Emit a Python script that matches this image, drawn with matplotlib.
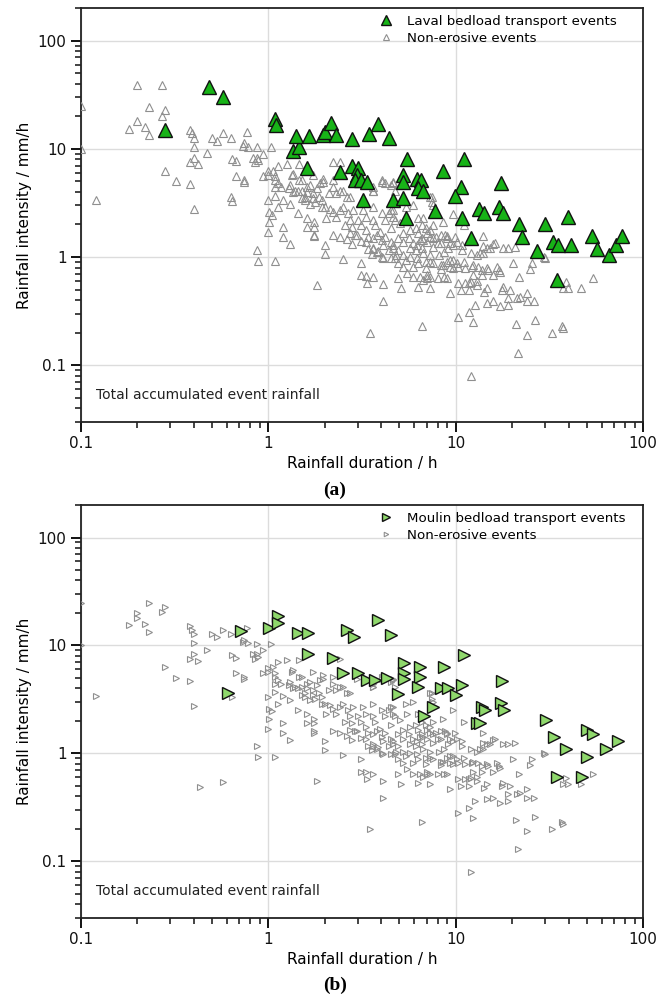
import numpy as np
import matplotlib
matplotlib.use("Agg")
import matplotlib.pyplot as plt
from matplotlib.ticker import LogLocator, NullFormatter

# rainfall duration (h), rainfall intensity (mm/h)
laval_events = [
    (0.28, 15), (0.48, 37), (0.57, 30), (1.09, 19), (1.1, 16.5), (1.36, 9.6), (1.45, 10.3),
    (1.41, 13.2), (1.64, 13.2), (1.6, 6.6), (1.96, 13.5), (2.0, 14.3), (2.17, 17.5), (2.3, 13.3),
    (2.8, 12.2), (3.46, 13.8), (3.86, 17.1), (4.4, 12.5), (2.42, 6.05), (2.8, 6.9), (3.0, 6.6),
    (2.98, 5.7), (2.9, 5.1), (3.1, 5.1), (3.37, 4.9), (3.2, 3.35), (4.6, 3.35), (5.2, 3.5),
    (5.5, 8.0), (5.2, 5.7), (5.2, 4.9), (6.2, 5.3), (6.5, 5.1), (6.3, 4.3), (6.7, 4.1),
    (5.4, 2.3), (7.7, 2.65), (8.5, 6.2), (11, 8.1), (10.7, 4.4), (9.9, 3.65), (10.8, 2.3),
    (12, 1.5), (13.3, 2.8), (14.2, 2.55), (17, 2.9), (17.9, 2.55), (17.5, 4.8), (21.8, 2.0),
    (22.6, 1.53), (27, 1.13), (30, 2.0), (33, 1.38), (35, 1.29), (41, 1.29), (39.5, 2.33),
    (34.7, 0.61), (53, 1.56), (57, 1.18), (65.6, 1.04), (72, 1.29), (77, 1.56),
]

moulin_events = [
    (0.61, 3.6), (0.71, 13.6), (1.01, 14.5), (1.12, 18.6), (1.12, 16.1), (1.43, 13), (1.62, 13),
    (1.62, 8.3), (2.2, 7.6), (2.64, 13.9), (2.85, 12), (3.86, 17.1), (4.5, 12.5), (2.5, 5.6),
    (3.0, 5.6), (3.37, 4.8), (3.7, 4.8), (4.3, 5.0), (5.3, 6.9), (5.3, 5.6), (5.3, 4.9),
    (6.45, 6.3), (6.45, 5.1), (6.3, 4.15), (8.6, 6.3), (8.3, 4.05), (9.1, 4.05), (10.8, 4.3),
    (10, 3.5), (4.9, 3.55), (7.6, 2.7), (6.8, 2.2), (11, 8.15), (17.7, 4.7), (13.8, 2.7),
    (14.4, 2.55), (17.5, 2.95), (18, 2.55), (13, 1.93), (13.5, 1.93), (30.3, 2.05), (33.5, 1.43),
    (38.8, 1.1), (50, 1.66), (54, 1.5), (50, 0.92), (63.5, 1.11), (73, 1.29), (34.7, 0.6),
    (47, 0.6),
]

non_erosive = [
    (0.1, 25), (0.1, 10), (0.12, 3.4), (0.23, 24.6), (0.27, 20.3), (0.28, 22.6), (0.18, 15.4),
    (0.2, 17.9), (0.22, 15.8), (0.23, 13.3), (0.28, 6.3), (0.32, 5.0), (0.38, 15), (0.39, 13.9),
    (0.4, 12.7), (0.4, 10.5), (0.38, 7.5), (0.4, 8.3), (0.42, 7.2), (0.38, 4.7), (0.4, 2.76),
    (0.47, 9.1), (0.5, 12.7), (0.53, 11.9), (0.57, 13.9), (0.63, 12.7), (0.77, 14.4), (0.64, 8.1),
    (0.67, 7.7), (0.67, 5.6), (0.74, 5.1), (0.74, 4.9), (0.63, 3.6), (0.64, 3.3), (0.73, 10.7),
    (0.78, 10.5), (0.87, 10.3), (0.83, 8.3), (0.87, 8.3), (0.85, 7.5), (0.88, 7.8), (0.94, 9.0),
    (1.03, 10.3), (0.93, 5.6), (0.99, 6.2), (1.13, 7.0), (1.06, 6.3), (1.08, 5.6), (1.09, 5.1),
    (1.13, 4.8), (1.09, 4.4), (1.16, 4.4), (1.19, 3.4), (1.09, 3.7), (0.99, 3.35), (1.01, 2.6),
    (1.04, 2.45), (1.12, 2.9), (1.01, 2.1), (1.19, 1.9), (1.31, 4.6), (1.28, 4.3), (1.36, 4.0),
    (1.43, 4.05), (1.51, 4.1), (1.36, 5.9), (1.45, 5.1), (1.45, 7.3), (1.31, 3.1), (1.43, 2.55),
    (1.51, 3.5), (1.57, 3.6), (1.61, 2.3), (1.74, 2.1), (1.74, 1.9), (1.6, 4.4), (1.67, 4.6),
    (1.82, 4.3), (1.89, 4.8), (1.96, 4.9), (1.72, 5.7), (1.94, 3.35), (2.1, 3.9), (2.2, 4.4),
    (2.0, 2.9), (2.14, 2.8), (2.2, 2.6), (2.04, 2.3), (1.72, 3.5), (1.85, 3.6), (1.67, 3.1),
    (0.74, 11.2), (1.26, 7.3), (1.34, 5.7), (1.39, 4.1), (1.51, 5.1), (1.61, 4.0), (1.72, 3.9),
    (1.57, 3.35), (1.78, 3.2), (1.61, 1.9), (1.74, 1.6), (1.96, 5.3), (2.2, 5.1), (2.2, 7.5),
    (2.42, 7.5), (2.28, 3.9), (2.5, 4.1), (2.64, 3.6), (1.94, 2.9), (2.28, 2.33), (2.42, 2.7),
    (2.5, 2.9), (2.67, 2.55), (2.84, 2.7), (2.74, 2.2), (2.57, 1.97), (2.8, 1.9), (3.0, 2.2),
    (3.3, 2.33), (3.1, 1.97), (3.3, 1.77), (3.6, 2.2), (3.7, 1.97), (4.05, 2.55), (4.2, 2.2),
    (4.5, 1.85), (3.95, 1.7), (4.6, 2.7), (4.05, 5.1), (4.2, 4.8), (4.5, 4.6), (3.6, 4.1),
    (3.63, 4.4), (2.98, 4.9), (1.0, 5.7), (1.0, 1.7),
    (0.87, 1.16), (0.88, 0.92), (1.09, 0.92), (1.19, 1.53), (1.31, 1.32), (1.74, 1.56),
    (2.0, 1.29), (2.0, 1.07), (1.82, 0.55), (2.5, 0.96), (3.13, 0.88), (3.1, 0.68), (3.3, 0.67),
    (3.6, 0.65), (3.37, 0.58), (4.1, 0.56), (4.1, 0.39), (3.5, 0.2), (2.8, 1.32), (2.64, 1.46),
    (3.1, 1.4), (3.3, 1.37), (3.4, 1.18), (3.6, 1.18), (3.55, 1.07), (3.86, 1.14), (4.1, 0.98),
    (4.4, 1.16), (4.6, 1.29), (4.1, 1.29),
    (5.1, 0.52), (4.9, 0.64), (5.9, 0.65), (6.3, 0.53), (7.3, 0.52), (6.6, 0.23), (8.3, 0.78),
    (9.0, 0.64), (9.3, 0.47), (10.3, 0.28), (11.7, 0.31), (12.4, 0.25), (12.6, 0.36), (12.1, 0.08),
    (10.3, 0.58), (10.6, 0.5), (11.7, 0.5), (13, 0.55), (14.2, 0.48), (14.7, 0.38), (15.8, 0.39),
    (17.2, 0.35), (17.7, 0.5), (19.5, 0.5), (19, 0.36), (19, 0.42), (21, 0.24), (21.5, 0.13),
    (21.3, 0.42), (22, 0.43), (24, 0.47), (24, 0.39), (26, 0.39), (24, 0.19), (26.5, 0.26),
    (32.7, 0.2), (37, 0.23), (37.5, 0.22), (37.5, 0.52), (39.5, 0.52), (38.8, 0.59), (46.7, 0.52),
    (54, 0.64), (20.3, 0.88), (21.8, 0.65), (25, 0.78), (25.5, 0.88), (30, 0.98), (20.7, 1.24),
    (17.9, 1.21), (15.8, 1.32), (14.7, 1.21), (13.5, 1.09), (14, 1.56), (16.6, 0.81), (17.3, 0.73),
    (15.8, 0.68), (14.9, 0.76), (13.8, 0.68), (12.4, 0.84), (12.4, 0.68), (13, 0.6), (12, 0.59),
    (11.2, 0.58), (12, 1.09), (11, 0.9), (10.2, 0.88), (9.7, 0.94), (9.3, 0.81), (9.0, 0.9),
    (8.3, 0.84), (7.3, 0.9), (6.9, 0.79), (6.3, 0.88), (5.9, 0.81), (5.2, 0.81), (4.9, 0.88),
    (4.8, 1.04), (4.5, 0.98), (4.05, 1.0), (3.8, 1.11), (3.6, 1.21), (2.9, 1.6), (2.74, 1.66),
    (5.5, 0.71), (5.4, 0.94), (5.7, 1.21), (6.2, 1.29), (6.7, 1.43), (7.3, 1.53), (8.0, 1.35),
    (8.8, 1.6), (9.3, 1.35), (9.9, 1.53), (10.8, 1.29), (14, 1.26), (8.6, 0.65), (7.3, 0.65),
    (6.7, 0.61), (7.0, 0.68),
    (4.6, 4.9), (4.75, 4.1), (5.9, 3.0), (4.6, 2.33), (4.75, 2.2), (6.3, 2.3), (6.7, 2.3),
    (7.5, 3.6), (7.6, 3.0), (9.6, 2.5), (8.5, 2.1), (7.6, 1.97), (6.9, 1.85), (5.7, 1.77),
    (5.25, 1.66), (6.3, 1.66), (7.0, 1.66), (8.3, 1.6), (9.0, 1.56), (11, 1.97),
    (4.6, 1.21), (5.2, 1.04), (5.7, 1.0), (6.2, 0.98), (6.7, 1.09), (7.3, 1.04), (8.1, 1.04),
    (8.6, 1.11), (9.1, 1.21), (9.7, 1.29), (10.2, 1.37), (10.8, 1.16), (13, 1.04), (14, 1.09),
    (15.3, 1.21), (16.2, 1.35), (19, 1.21), (9.3, 0.94), (9.7, 0.79), (10.3, 0.81), (11.2, 0.79),
    (12.2, 0.81), (13.2, 0.81), (13.8, 0.76), (14.7, 0.79), (16.9, 0.76), (6.45, 0.65), (7.0, 0.64),
    (8.0, 0.64), (11.7, 0.58), (14.7, 0.52), (17.9, 0.53), (29.4, 1.0),
    (4.5, 1.37), (4.9, 1.5), (5.25, 1.37), (5.6, 1.5), (5.9, 1.35), (6.45, 1.43), (7.0, 1.37),
    (7.6, 1.5), (8.3, 1.35), (9.0, 1.5), (4.9, 1.16), (6.1, 1.16), (6.6, 1.21), (7.6, 1.24),
    (4.75, 0.98), (6.9, 0.9), (7.6, 0.88), (8.5, 0.84),
    (4.5, 2.7), (5.05, 2.05), (5.5, 2.33), (6.6, 1.97), (6.1, 1.85), (7.3, 1.77), (7.8, 1.53),
    (6.6, 1.5), (2.2, 1.6), (2.42, 1.53), (2.98, 1.6), (3.4, 1.53), (3.8, 1.6), (4.2, 1.53),
    (3.63, 1.5), (4.05, 1.43),
    (2.42, 4.1), (2.74, 3.6), (4.05, 4.9), (4.6, 4.8), (3.63, 4.1), (3.2, 2.7), (3.6, 2.9),
    (4.4, 2.55), (7.3, 3.6), (7.5, 3.2), (5.4, 2.9),
]
# extra non-erosive events visible only in one panel
laval_non_erosive_extra = [(0.2, 38.5), (0.27, 39)]
moulin_non_erosive_extra = [(0.43, 0.49), (0.57, 0.54), (0.2, 19.8)]

panels = [
    dict(events=laval_events, extra=laval_non_erosive_extra, marker="^",
         face="#17b317", big=9.5, small=5.4, label="Laval bedload transport events", tag="(a)"),
    dict(events=moulin_events, extra=moulin_non_erosive_extra, marker=">",
         face="#8fd86c", big=8.5, small=4.3, label="Moulin bedload transport events", tag="(b)"),
]

plt.rcParams["font.family"] = "DejaVu Sans"
fig = plt.figure(figsize=(6.7, 10.02), dpi=100)
boxes = [[0.121, 0.579, 0.839, 0.413], [0.121, 0.084, 0.839, 0.412]]

for p, box in zip(panels, boxes):
    ax = fig.add_axes(box)
    ax.set_xscale("log")
    ax.set_yscale("log")
    ax.set_xlim(0.1, 100)
    ax.set_ylim(0.03, 200)

    gray = np.array(non_erosive + p["extra"])
    ev = np.array(p["events"])
    ax.plot(gray[:, 0], gray[:, 1], ls="none", marker=p["marker"], ms=p["small"],
            mfc="none", mec="#8f8f8f", mew=0.8, label="Non-erosive events", zorder=3)
    ax.plot(ev[:, 0], ev[:, 1], ls="none", marker=p["marker"], ms=p["big"],
            mfc=p["face"], mec="#111111", mew=1.0, label=p["label"], zorder=4)

    ax.grid(True, which="major", color="#dcdcdc", lw=1, zorder=0)
    ax.set_axisbelow(True)
    ax.set_xticks([0.1, 1, 10, 100])
    ax.set_xticklabels(["0.1", "1", "10", "100"])
    ax.set_yticks([0.1, 1, 10, 100])
    ax.set_yticklabels(["0.1", "1", "10", "100"])
    ax.xaxis.set_minor_locator(LogLocator(base=10, subs=np.arange(2, 10)))
    ax.yaxis.set_minor_locator(LogLocator(base=10, subs=np.arange(2, 10)))
    ax.xaxis.set_minor_formatter(NullFormatter())
    ax.yaxis.set_minor_formatter(NullFormatter())
    ax.tick_params(which="major", direction="out", length=7, width=1.4, labelsize=11,
                   top=False, right=False, colors="#111111")
    ax.tick_params(which="minor", direction="out", length=4, width=1.1,
                   top=False, right=False, colors="#111111")
    for s in ax.spines.values():
        s.set_linewidth(1.3)
        s.set_color("#222222")

    ax.set_xlabel("Rainfall duration / h", fontsize=11, labelpad=3)
    ax.set_ylabel("Rainfall intensity / mm/h", fontsize=11, labelpad=4)
    ax.text(0.027, 0.065, "Total accumulated event rainfall", transform=ax.transAxes,
            fontsize=10, va="center", ha="left", color="#222222")

    h, l = ax.get_legend_handles_labels()
    ax.legend(h[::-1], l[::-1], loc="upper left", bbox_to_anchor=(0.506, 1.012),
              frameon=False, fontsize=9.6, markerscale=0.75, handlelength=1.2,
              handletextpad=1.0, labelspacing=0.3)

fig.text(0.5, 0.511, "(a)", ha="center", va="center", fontsize=14,
         fontweight="bold", family="Liberation Serif")
fig.text(0.5, 0.017, "(b)", ha="center", va="center", fontsize=14,
         fontweight="bold", family="Liberation Serif")

fig.savefig("out.png", dpi=100)
